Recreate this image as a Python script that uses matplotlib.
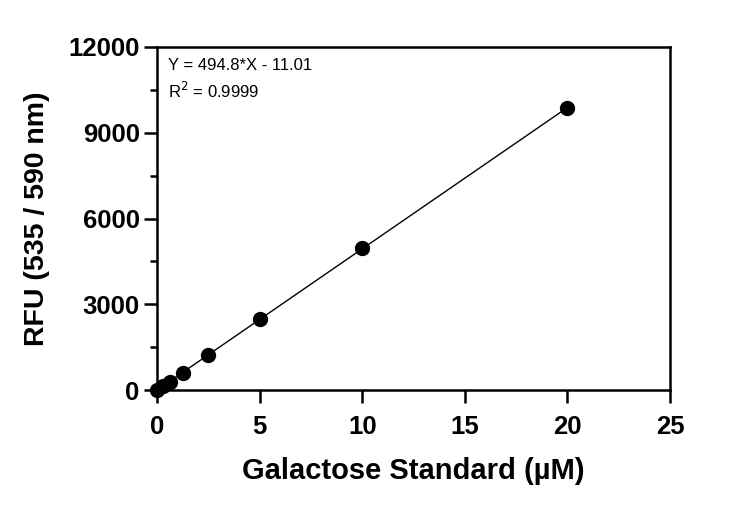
import numpy as np
import matplotlib
matplotlib.use("Agg")
import matplotlib.pyplot as plt
from matplotlib.ticker import MultipleLocator

conc = [0, 0.3125, 0.625, 1.25, 2.5, 5, 10, 20]
rfu = [-5, 150, 290, 600, 1230, 2480, 4980, 9860]
xticks = [0, 5, 10, 15, 20, 25]
yticks = [0, 3000, 6000, 9000, 12000]
eq_text = "Y = 494.8*X - 11.01"
r2_text = "R$^2$ = 0.9999"

plt.rcParams['font.family'] = ['Liberation Sans', 'DejaVu Sans']

fig = plt.figure(figsize=(7.5, 5.05), dpi=100)
ax = fig.add_axes([157/750, 1-390/505, (670-157)/750, (390-47)/505])

slope, intercept = np.polyfit(conc, rfu, 1)
xl = np.array([min(conc), max(conc)])
ax.plot(xl, slope*xl + intercept, color='black', lw=1.0, zorder=2)
ax.plot(conc, rfu, 'o', color='black', ms=10, zorder=3, clip_on=False)

ax.set_xlim(0, 25)
ax.set_ylim(0, 12000)
ax.set_xticks(xticks)
ax.set_yticks(yticks)
ax.yaxis.set_minor_locator(MultipleLocator(1500))
for s in ax.spines.values():
    s.set_linewidth(1.8)
ax.tick_params(axis='both', which='major', direction='out', length=9.5, width=1.8,
               labelsize=18.5)
ax.tick_params(axis='x', which='major', pad=8.5)
ax.tick_params(axis='y', which='major', pad=3)
ax.tick_params(axis='y', which='minor', direction='out', length=5, width=1.8)
for lab in ax.get_xticklabels() + ax.get_yticklabels():
    lab.set_fontweight('bold')

ax.set_xlabel("Galactose Standard (µM)", fontsize=21, fontweight='bold', labelpad=13)
ax.set_ylabel("RFU (535 / 590 nm)", fontsize=20.5, fontweight='bold', labelpad=13)

ax.text(0.022, 0.968, eq_text, transform=ax.transAxes, fontsize=12, va='top', ha='left')
ax.text(0.022, 0.902, r2_text, transform=ax.transAxes, fontsize=12, va='top', ha='left')

fig.savefig("out.png", dpi=100)
